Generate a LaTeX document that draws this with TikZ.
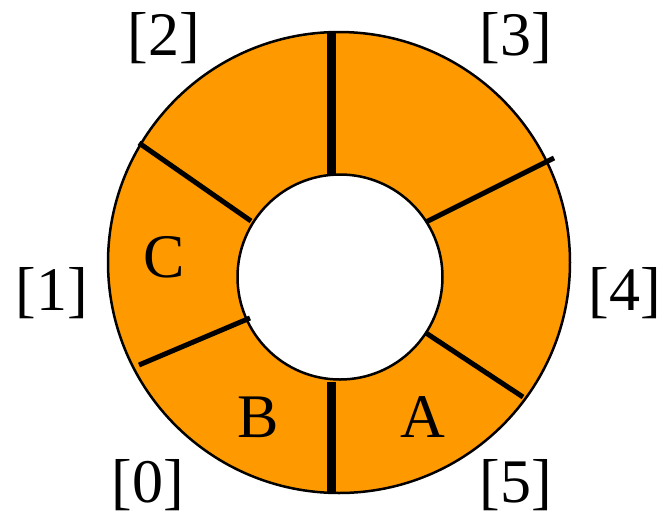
\documentclass[tikz,border=0pt]{standalone}
\usepackage{fontspec}
\setmainfont{Liberation Serif}
\definecolor{ringorange}{RGB}{255,153,0}
\begin{document}
\begin{tikzpicture}[x=1pt,y=-1pt,
  divider/.style={line width=5pt},
  mainsplit/.style={line width=9pt},
  lbl/.style={font=\fontsize{62}{62}\selectfont, inner sep=0pt},
  ringedge/.style={line width=2.5pt}]
\useasboundingbox (0,0) rectangle (662,515);
% ring
\fill[ringorange, even odd rule] (339,262.5) ellipse [x radius=231, y radius=230.5]
  (340,277) circle [radius=102.5];
\draw[ringedge] (339,262.5) ellipse [x radius=231, y radius=230.5];
\draw[ringedge] (340,277) circle [radius=102.5];
% dividers
\coordinate (t1) at (331,32);  \coordinate (t2) at (331,175);
\coordinate (b1) at (331,382); \coordinate (b2) at (331,494);
\coordinate (ul1) at (139,143); \coordinate (ul2) at (251,221);
\coordinate (ur1) at (426,222); \coordinate (ur2) at (554,158);
\coordinate (ll1) at (139,365); \coordinate (ll2) at (250,318);
\coordinate (lr1) at (426,333); \coordinate (lr2) at (523,397);
\draw[mainsplit] (t1) -- (t2);
\draw[mainsplit] (b1) -- (b2);
\draw[divider] (ul1) -- (ul2);
\draw[divider] (ur1) -- (ur2);
\draw[divider] (ll1) -- (ll2);
\draw[divider] (lr1) -- (lr2);
% labels
\node[lbl] (i2) at (164,38) {[2]};
\node[lbl] (i3) at (516,38) {[3]};
\node[lbl] (i1) at (52,293) {[1]};
\node[lbl] (i4) at (625,293) {[4]};
\node[lbl] (i0) at (148,485) {[0]};
\node[lbl] (i5) at (516,485) {[5]};
\node[lbl] (lc) at (164,257) {C};
\node[lbl] (lb) at (258,417) {B};
\node[lbl] (la) at (423,417) {A};
\end{tikzpicture}
\end{document}
